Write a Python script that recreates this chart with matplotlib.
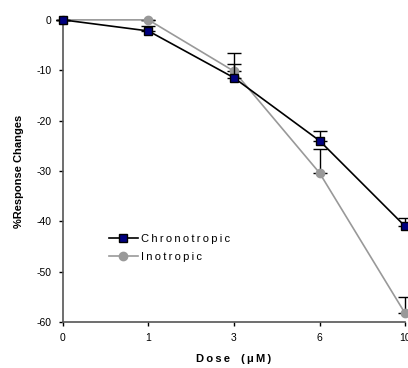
import matplotlib.pyplot as plt
from matplotlib.lines import Line2D
import numpy as np

# dose levels (plotted as evenly spaced categories)
doses = ['0', '1', '3', '6', '10']
chrono = [0, -2.2, -11.5, -24.0, -41.0]
chrono_err = [0, 1.0, 4.9, 2.0, 1.6]
ino = [0, 0, -10.2, -30.4, -58.3]
ino_err = [0, 0, 1.5, 4.8, 3.2]


def spaced(text, sep='\u2009'):
    # crude letter spacing
    return sep.join(text)


plt.rcParams['font.family'] = ['Liberation Sans', 'DejaVu Sans']
plt.rcParams['axes.unicode_minus'] = False

x = np.arange(len(doses))
fig = plt.figure(figsize=(4.08, 3.68), dpi=100)
ax = fig.add_axes([0.154, 0.125, 0.839, 0.821])

ax.errorbar(x, ino, yerr=[np.zeros(len(ino)), ino_err], color='#999999', lw=1.2,
            marker='o', ms=6, mfc='#999999', mec='#999999', ecolor='black',
            elinewidth=1, capsize=5, capthick=1, zorder=2)
ax.errorbar(x, chrono, yerr=[np.zeros(len(chrono)), chrono_err], color='black', lw=1.2,
            marker='s', ms=5.5, mfc='#000080', mec='black', ecolor='black',
            elinewidth=1, capsize=5, capthick=1, zorder=3)

ax.set_xlim(0, 4)
ax.set_ylim(-60, 0)
ax.set_xticks(x)
ax.set_xticklabels(doses)
ax.set_yticks(np.arange(-60, 1, 10))
ax.tick_params(labelsize=7.5, length=3, width=1, pad=5)
for s in ['top', 'right']:
    ax.spines[s].set_visible(False)
ax.spines['left'].set_color('#555555')
ax.spines['bottom'].set_color('#555555')
for s in ['left', 'bottom']:
    ax.spines[s].set_linewidth(1.2)
for a in ax.lines + ax.collections:
    a.set_clip_on(False)

ax.set_ylabel('%Response Changes', fontsize=8, fontweight='bold', labelpad=9)
ax.xaxis.set_label_coords(0.5, -0.105)
ax.set_xlabel(spaced('Dose') + '\u2003' + spaced('(\u03bcM)'), fontsize=8,
              fontweight='bold')

handles = [
    Line2D([], [], color='black', lw=1.2, marker='s', ms=5.5, mfc='#000080', mec='black'),
    Line2D([], [], color='#999999', lw=1.2, marker='o', ms=6, mfc='#999999', mec='#999999'),
]
ax.legend(handles, [spaced('Chronotropic'), spaced('Inotropic')], loc='upper left',
          bbox_to_anchor=(0.105, 0.325), frameon=False, fontsize=8,
          handlelength=2.6, handletextpad=0.3, labelspacing=0.75)

fig.savefig('out.png', dpi=100)
